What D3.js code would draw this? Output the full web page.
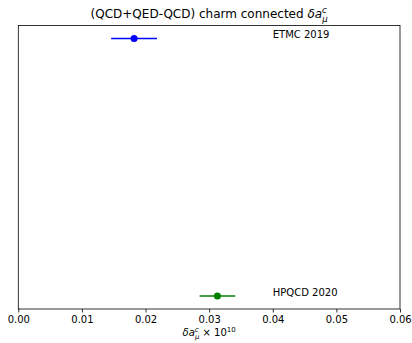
<!DOCTYPE html>
<html><head><meta charset="utf-8">
<script src="https://cdn.jsdelivr.net/npm/d3@7"></script>
<style>body{margin:0;background:#fff}svg{display:block}text{font-family:"DejaVu Sans",sans-serif}</style>
</head><body><svg id="c" width="412" height="343"></svg>
<script>
const labels = ["ETMC 2019", "HPQCD 2020"];
const values = [0.0182, 0.0313];
const errors = [0.0036, 0.0028];
const colors = ["#0000ff", "#008000"];
const xTicks = [0, 0.01, 0.02, 0.03, 0.04, 0.05, 0.06];
const labelX = 0.04;

const svg = d3.select("#c");
const L = 18.3, R = 400, T = 25.5, B = 309;
const x = d3.scaleLinear().domain([0, 0.06]).range([L, R]);
const y = d3.scaleLinear().domain([-0.05, 1.05]).range([T, B]);

const g = svg.append("g");
const ax = svg.append("g").attr("transform", `translate(0,${B})`)
  .call(d3.axisBottom(x).tickValues(xTicks).tickFormat(d3.format(".2f")).tickSize(3.5).tickPadding(3.5));
ax.select(".domain").remove();
ax.selectAll("text").attr("font-size", 10).attr("fill", "#000").style("font-family", "DejaVu Sans");
ax.selectAll("line").attr("stroke", "#000").attr("stroke-width", 0.8);

svg.append("rect").attr("x", L).attr("y", T).attr("width", R - L).attr("height", B - T)
  .attr("fill", "none").attr("stroke", "#000").attr("stroke-width", 0.8);

labels.forEach((lab, i) => {
  const yy = y(i);
  g.append("line").attr("x1", x(values[i] - errors[i])).attr("x2", x(values[i] + errors[i]))
    .attr("y1", yy).attr("y2", yy).attr("stroke", colors[i]).attr("stroke-width", 1.5);
  g.append("circle").attr("cx", x(values[i])).attr("cy", yy).attr("r", 3.5).attr("fill", colors[i]);
  g.append("text").attr("x", x(labelX)).attr("y", yy - 3.5).attr("dy", "0.35em")
    .attr("font-size", 10).text(lab);
});

const title = svg.append("text").attr("x", (L + R) / 2).attr("y", 18).attr("text-anchor", "middle").attr("font-size", 12);
title.append("tspan").text("(QCD+QED-QCD) charm connected ");
title.append("tspan").attr("font-style", "italic").text("δa");
title.append("tspan").attr("font-style", "italic").attr("font-size", 8.5).attr("dy", -5).text("c");
title.append("tspan").attr("font-style", "italic").attr("font-size", 8.5).attr("dx", -4.5).attr("dy", 8.5).text("μ");

const xl = svg.append("text").attr("x", (L + R) / 2).attr("y", 336).attr("text-anchor", "middle").attr("font-size", 10);
xl.append("tspan").attr("font-style", "italic").text("δa");
xl.append("tspan").attr("font-style", "italic").attr("font-size", 7).attr("dy", -4).text("c");
xl.append("tspan").attr("font-style", "italic").attr("font-size", 7).attr("dx", -3.8).attr("dy", 7).text("μ");
xl.append("tspan").attr("dy", -3).text(" × 10");
xl.append("tspan").attr("font-size", 7).attr("dy", -4).text("10");
</script></body></html>
